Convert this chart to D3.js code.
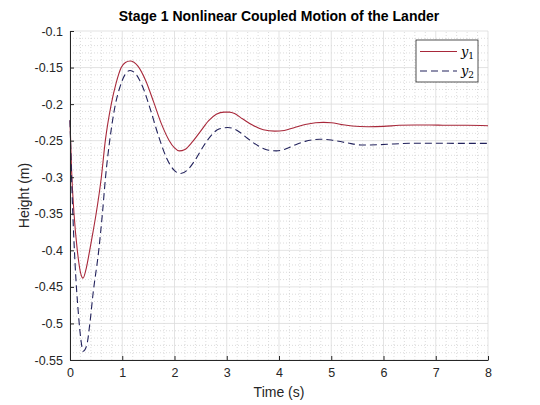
<!DOCTYPE html>
<html>
<head>
<meta charset="utf-8">
<script src="https://cdn.jsdelivr.net/npm/d3@7"></script>
<style>
  body { margin: 0; background: #fff; }
  svg { display: block; font-family: "Liberation Sans", Arial, sans-serif; }
</style>
</head>
<body>
<div id="chart"></div>
<script>
// values
const t1 = [0, 0.03, 0.077, 0.14, 0.2, 0.25, 0.31, 0.377, 0.44, 0.5, 0.6, 0.676, 0.79, 0.88, 0.98, 1.06, 1.15,
  1.3, 1.45, 1.6, 1.75, 1.9, 2.0, 2.09, 2.2, 2.35, 2.5, 2.65, 2.8, 2.95, 3.05, 3.15, 3.3, 3.5, 3.7, 3.92,
  4.1, 4.3, 4.5, 4.7, 4.85, 5.0, 5.2, 5.4, 5.7, 6.0, 6.3, 6.6, 6.9, 7.2, 7.6, 8.0];
const y1 = [-0.222, -0.29, -0.35, -0.40, -0.43, -0.438, -0.425, -0.40, -0.375, -0.35, -0.30, -0.25, -0.20, -0.172, -0.15, -0.143, -0.141,
  -0.148, -0.168, -0.197, -0.227, -0.250, -0.260, -0.264, -0.262, -0.251, -0.237, -0.223, -0.214, -0.211, -0.211, -0.213, -0.220, -0.229, -0.235, -0.237,
  -0.236, -0.232, -0.228, -0.2255, -0.225, -0.2255, -0.228, -0.230, -0.231, -0.2305, -0.229, -0.2285, -0.2285, -0.229, -0.229, -0.2295];

const t2 = [0, 0.03, 0.096, 0.16, 0.21, 0.25, 0.32, 0.38, 0.44, 0.55, 0.62, 0.68, 0.76, 0.87, 0.95, 1.05, 1.15,
  1.25, 1.4, 1.55, 1.7, 1.85, 2.0, 2.12, 2.25, 2.4, 2.55, 2.7, 2.85, 3.02, 3.2, 3.4, 3.6, 3.8, 3.95,
  4.1, 4.3, 4.5, 4.78, 5.0, 5.3, 5.6, 5.9, 6.2, 6.6, 7.0, 7.5, 8.0];
const y2 = [-0.222, -0.30, -0.417, -0.486, -0.523, -0.538, -0.53, -0.50, -0.46, -0.40, -0.35, -0.30, -0.25, -0.20, -0.178, -0.160, -0.154,
  -0.158, -0.178, -0.210, -0.245, -0.274, -0.291, -0.295, -0.290, -0.276, -0.258, -0.243, -0.234, -0.232, -0.236, -0.247, -0.257, -0.263, -0.264,
  -0.262, -0.256, -0.251, -0.248, -0.249, -0.253, -0.256, -0.2555, -0.2545, -0.2535, -0.2535, -0.2537, -0.2537];

const xTicks = [0, 1, 2, 3, 4, 5, 6, 7, 8];
const yTicks = [-0.55, -0.5, -0.45, -0.4, -0.35, -0.3, -0.25, -0.2, -0.15, -0.1];
const seriesNames = ['1', '2'];

const width = 540, height = 405;
const margin = {top: 31, right: 52, bottom: 45, left: 70};

const svg = d3.select('#chart').append('svg')
    .attr('width', width)
    .attr('height', height);

const x = d3.scaleLinear().domain([0, 8]).range([margin.left, width - margin.right]);
const y = d3.scaleLinear().domain([-0.55, -0.1]).range([height - margin.bottom, margin.top]);

// minor grid (dotted)
const grid = svg.append('g');
grid.selectAll('.xminor').data(x.ticks(40).filter(v => !xTicks.includes(+v.toFixed(2))))
  .enter().append('line')
    .attr('x1', d => x(d)).attr('x2', d => x(d))
    .attr('y1', y(-0.55)).attr('y2', y(-0.1))
    .attr('stroke', '#c4c4c4').attr('stroke-width', 0.6).attr('stroke-dasharray', '1,2');
grid.selectAll('.yminor').data(y.ticks(45).filter(v => !yTicks.includes(+v.toFixed(3))))
  .enter().append('line')
    .attr('x1', x(0)).attr('x2', x(8))
    .attr('y1', d => y(d)).attr('y2', d => y(d))
    .attr('stroke', '#c4c4c4').attr('stroke-width', 0.6).attr('stroke-dasharray', '1,2');

// major grid
grid.selectAll('.xmajor').data(xTicks).enter().append('line')
    .attr('x1', d => x(d)).attr('x2', d => x(d))
    .attr('y1', y(-0.55)).attr('y2', y(-0.1))
    .attr('stroke', '#dcdcdc').attr('stroke-width', 0.8);
grid.selectAll('.ymajor').data(yTicks).enter().append('line')
    .attr('x1', x(0)).attr('x2', x(8))
    .attr('y1', d => y(d)).attr('y2', d => y(d))
    .attr('stroke', '#dcdcdc').attr('stroke-width', 0.8);

// lines
const line = d3.line()
    .x(d => x(d[0]))
    .y(d => y(d[1]))
    .curve(d3.curveMonotoneX);

const data1 = t1.map((t, i) => [t, y1[i]]);
const data2 = t2.map((t, i) => [t, y2[i]]);

const color1 = '#a8283a', color2 = '#22225c';

svg.append('path')
    .datum(data1)
    .attr('d', line)
    .attr('fill', 'none')
    .attr('stroke', color1)
    .attr('stroke-width', 1.1);

svg.append('path')
    .datum(data2)
    .attr('d', line)
    .attr('fill', 'none')
    .attr('stroke', color2)
    .attr('stroke-width', 1.1)
    .attr('stroke-dasharray', '7,4');

// axes (ticks point inward, no box)
const xAxis = d3.axisBottom(x).tickValues(xTicks).tickSizeInner(-4).tickSizeOuter(0).tickPadding(8)
    .tickFormat(d => String(d));
const yAxis = d3.axisLeft(y).tickValues(yTicks).tickSizeInner(-4).tickSizeOuter(0).tickPadding(7)
    .tickFormat(d => String(+d.toFixed(2)));

const gx = svg.append('g')
    .attr('transform', `translate(0,${y(-0.55)})`)
    .call(xAxis);
const gy = svg.append('g')
    .attr('transform', `translate(${x(0)},0)`)
    .call(yAxis);

[gx, gy].forEach(g => {
  g.selectAll('path, line').attr('stroke', '#262626');
  g.selectAll('text').attr('fill', '#262626').style('font-size', '12.5px')
    .style('font-family', '"Liberation Sans", Arial, sans-serif');
});

// labels
svg.append('text')
    .attr('x', (x(0) + x(8)) / 2)
    .attr('y', 21)
    .attr('text-anchor', 'middle')
    .style('font-weight', 'bold')
    .style('font-size', '14px')
    .attr('fill', '#000')
    .text('Stage 1 Nonlinear Coupled Motion of the Lander');

svg.append('text')
    .attr('x', (x(0) + x(8)) / 2)
    .attr('y', 397)
    .attr('text-anchor', 'middle')
    .style('font-size', '14px')
    .attr('fill', '#262626')
    .text('Time (s)');

svg.append('text')
    .attr('transform', `translate(29,${(y(-0.1) + y(-0.55)) / 2}) rotate(-90)`)
    .attr('text-anchor', 'middle')
    .style('font-size', '14px')
    .attr('fill', '#262626')
    .text('Height (m)');

// legend
const legend = svg.append('g');
legend.append('rect')
    .attr('x', 416).attr('y', 40)
    .attr('width', 62).attr('height', 42)
    .attr('fill', '#fff')
    .attr('stroke', '#262626')
    .attr('stroke-width', 0.8);

const legendStyles = [
  {color: color1, dash: null},
  {color: color2, dash: '7,4'}
];

seriesNames.forEach((name, i) => {
  const ly = 51.5 + i * 19.5;
  legend.append('line')
      .attr('x1', 420).attr('x2', 457)
      .attr('y1', ly).attr('y2', ly)
      .attr('stroke', legendStyles[i].color)
      .attr('stroke-width', 1.1)
      .attr('stroke-dasharray', legendStyles[i].dash);
  const txt = legend.append('text')
      .attr('x', 461).attr('y', ly + 4)
      .style('font-family', '"DejaVu Serif", "Liberation Serif", serif')
      .style('font-style', 'italic')
      .style('font-size', '13px')
      .attr('fill', '#000')
      .text('y');
  txt.append('tspan')
      .attr('dy', 3)
      .style('font-style', 'normal')
      .style('font-size', '9px')
      .text(name);
});
</script>
</body>
</html>
